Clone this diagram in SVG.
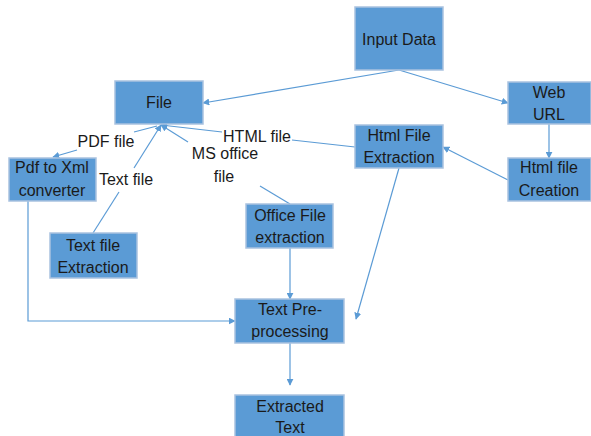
<svg xmlns="http://www.w3.org/2000/svg" width="591" height="436" viewBox="0 0 591 436">
<style>
.box{fill:#5B9BD5;stroke:#A9C2DF;stroke-width:1.5}
.bt{font-family:"Liberation Sans",Arial,sans-serif;font-size:16px;fill:#1a1a1a;text-anchor:middle}
.lb{font-family:"Liberation Sans",Arial,sans-serif;font-size:16px;fill:#1a1a1a;text-anchor:middle}
.c{fill:none;stroke:#5B9BD5;stroke-width:1.2}
</style>
<defs>
<marker id="ah" viewBox="0 0 10 10" refX="9" refY="5" markerWidth="7" markerHeight="7" markerUnits="userSpaceOnUse" orient="auto">
<path d="M0,0 L10,5 L0,10 z" fill="#5B9BD5"/>
</marker>
</defs>
<rect width="591" height="436" fill="#fff"/>
<g id="connectors">
<path class="c" d="M399,70 L203,103" marker-end="url(#ah)"/>
<path class="c" d="M399,70 L508,103" marker-end="url(#ah)"/>
<path class="c" d="M549,124 L549,158" marker-end="url(#ah)"/>
<path class="c" d="M508,180 L443,147" marker-end="url(#ah)"/>
<path class="c" d="M355,147 L292,140"/>
<path class="c" d="M222,132 L161,125" marker-end="url(#ah)"/>
<path class="c" d="M399,168 L356,319" marker-end="url(#ah)"/>
<path class="c" d="M157,126 L134,132"/>
<path class="c" d="M77,150 L53,157" marker-end="url(#ah)"/>
<path class="c" d="M28,201 L28,321 L235,321" marker-end="url(#ah)"/>
<path class="c" d="M93,233 L119,192"/>
<path class="c" d="M134,168 L161,125" marker-end="url(#ah)"/>
<path class="c" d="M290,204 L260,186"/>
<path class="c" d="M188,142 L161,125" marker-end="url(#ah)"/>
<path class="c" d="M290,248 L290,299" marker-end="url(#ah)"/>
<path class="c" d="M290,343 L290,385" marker-end="url(#ah)"/>
<text class="lb" x="106" y="147">PDF file</text>
<text class="lb" x="257" y="142">HTML file</text>
<text class="lb" x="126" y="185">Text file</text>
<text class="lb" x="225" y="159">MS office</text>
<text class="lb" x="224" y="182">file</text>
</g>
<g id="input-data"><rect class="box" x="355" y="7" width="88" height="63"/><text class="bt" x="399" y="45">Input Data</text></g>
<g id="file"><rect class="box" x="115" y="81" width="88" height="43"/><text class="bt" x="159" y="108">File</text></g>
<g id="web-url"><rect class="box" x="508" y="82" width="83" height="42"/><text class="bt" x="549" y="98">Web</text><text class="bt" x="549" y="120">URL</text></g>
<g id="html-file-extraction"><rect class="box" x="355" y="125" width="88" height="43"/><text class="bt" x="399" y="141">Html File</text><text class="bt" x="399" y="163">Extraction</text></g>
<g id="html-file-creation"><rect class="box" x="508" y="158" width="83" height="43"/><text class="bt" x="549" y="173">Html file</text><text class="bt" x="549" y="196">Creation</text></g>
<g id="pdf-to-xml"><rect class="box" x="9" y="158" width="87" height="43"/><text class="bt" x="52" y="173">Pdf to Xml</text><text class="bt" x="52" y="196">converter</text></g>
<g id="text-file-extraction"><rect class="box" x="50" y="233" width="87" height="45"/><text class="bt" x="93" y="251">Text file</text><text class="bt" x="93" y="273">Extraction</text></g>
<g id="office-file-extraction"><rect class="box" x="246" y="204" width="87" height="44"/><text class="bt" x="290" y="221">Office File</text><text class="bt" x="290" y="243">extraction</text></g>
<g id="text-preprocessing"><rect class="box" x="235" y="299" width="109" height="44"/><text class="bt" x="290" y="315">Text Pre-</text><text class="bt" x="290" y="337">processing</text></g>
<g id="extracted-text"><rect class="box" x="235" y="395" width="109" height="45"/><text class="bt" x="290" y="412">Extracted</text><text class="bt" x="290" y="433">Text</text></g>
</svg>
